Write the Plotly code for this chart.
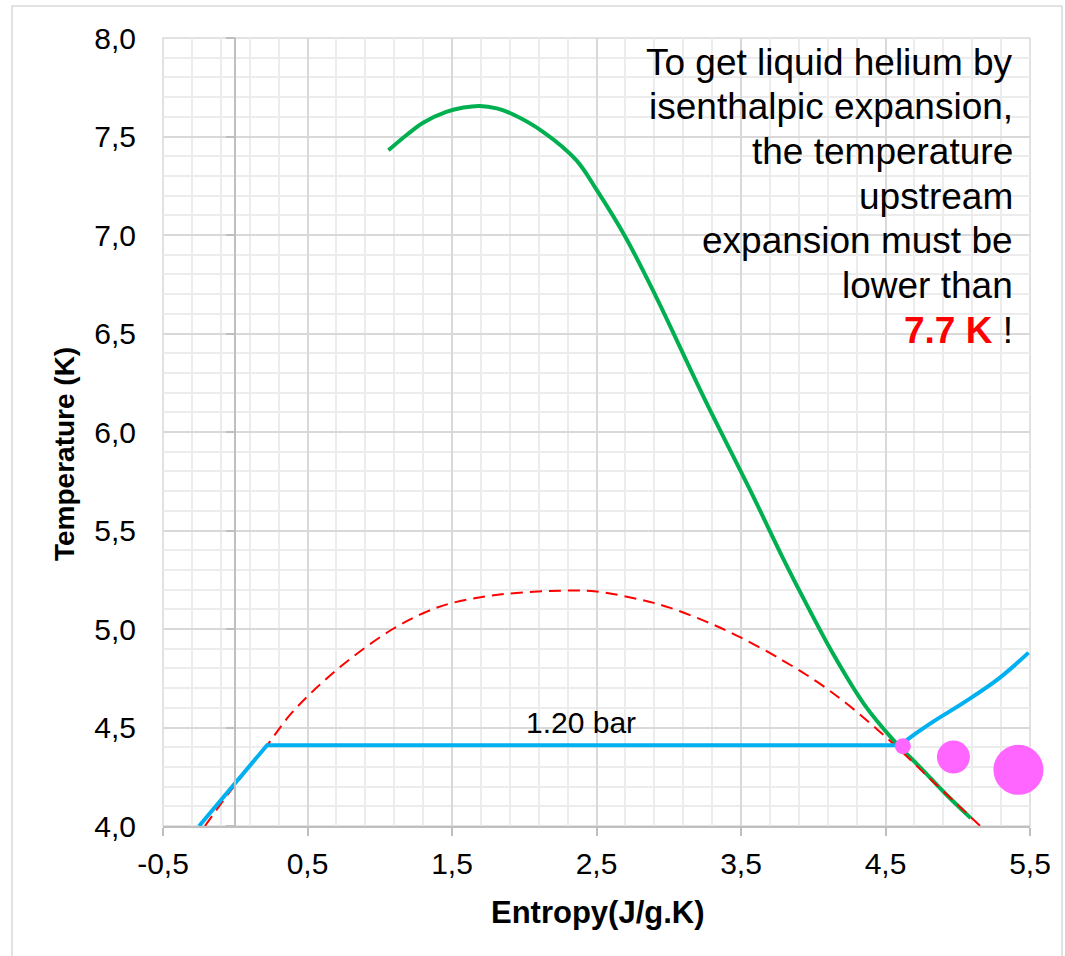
import plotly.graph_objects as go

# ---- data ----
isenthalp_s = [1.06, 1.19, 1.30, 1.46, 1.58, 1.69, 1.81, 1.92, 2.13, 2.36, 2.50, 2.70, 2.91, 3.24, 3.58, 3.79, 3.95, 4.14, 4.35, 4.55, 4.75, 4.92, 5.09]
isenthalp_T = [7.43, 7.51, 7.57, 7.625, 7.647, 7.655, 7.643, 7.613, 7.524, 7.38, 7.23, 6.99, 6.69, 6.18, 5.68, 5.36, 5.13, 4.87, 4.62, 4.44, 4.29, 4.16, 4.04]

dome_s = [-0.21, -0.01, 0.22, 0.38, 0.56, 0.79, 1.09, 1.30, 1.49, 1.83, 2.30, 2.50, 2.80, 3.00, 3.25, 3.49, 3.79, 4.03, 4.25, 4.55, 4.83, 5.17]
dome_T = [4.00, 4.20, 4.41, 4.565, 4.70, 4.845, 5.00, 5.08, 5.13, 5.175, 5.195, 5.19, 5.15, 5.11, 5.04, 4.96, 4.84, 4.73, 4.61, 4.42, 4.225, 3.99]

isobar_s = [-0.25, 0.22, 4.60, 4.72, 4.83, 5.06, 5.29, 5.49]
isobar_T = [4.00, 4.41, 4.41, 4.475, 4.53, 4.635, 4.752, 4.88]

bubble_s = [4.62, 4.97, 5.42]
bubble_T = [4.405, 4.35, 4.285]
bubble_size = [16, 33, 50]

x_tick_vals = [-0.5, 0.5, 1.5, 2.5, 3.5, 4.5, 5.5]
x_tick_text = ["-0,5", "0,5", "1,5", "2,5", "3,5", "4,5", "5,5"]
y_tick_vals = [4.0, 4.5, 5.0, 5.5, 6.0, 6.5, 7.0, 7.5, 8.0]
y_tick_text = ["4,0", "4,5", "5,0", "5,5", "6,0", "6,5", "7,0", "7,5", "8,0"]

isobar_label = "1.20 bar"
note_lines = ["To get liquid helium by", "isenthalpic expansion,", "the temperature", "upstream",
              "expansion must be", "lower than", "<span style='color:#FF0000'><b>7.7 K</b></span> !"]

FONT = "Liberation Sans, Arial, sans-serif"
MAJOR = "#d9d9d9"
MINOR = "#ececec"
AXIS = "#bfbfbf"

# plot-area geometry in pixels
L, R, T, B = 163, 1030, 38, 826
PW, PH = R - L, B - T


def px_x(px):
    return (px - L) / PW


def px_y(py):
    return (B - py) / PH


fig = go.Figure()
fig.add_trace(go.Scatter(x=isenthalp_s, y=isenthalp_T, mode="lines",
                         line=dict(color="#00B050", width=4, shape="spline", smoothing=1.0),
                         showlegend=False, hoverinfo="skip"))
fig.add_trace(go.Scatter(x=dome_s, y=dome_T, mode="lines",
                         line=dict(color="#FF0000", width=2, dash="12px,7px", shape="spline", smoothing=1.0),
                         showlegend=False, hoverinfo="skip"))
# isobar: liquid + two-phase part (straight), vapour part (curved)
fig.add_trace(go.Scatter(x=isobar_s[:3], y=isobar_T[:3], mode="lines",
                         line=dict(color="#00B0F0", width=4),
                         showlegend=False, hoverinfo="skip"))
fig.add_trace(go.Scatter(x=isobar_s[2:], y=isobar_T[2:], mode="lines",
                         line=dict(color="#00B0F0", width=4, shape="spline", smoothing=1.0),
                         showlegend=False, hoverinfo="skip"))
fig.add_trace(go.Scatter(x=bubble_s, y=bubble_T, mode="markers", cliponaxis=False,
                         marker=dict(color="#FF66FF", size=bubble_size, sizemode="diameter", line=dict(width=0), opacity=1),
                         showlegend=False, hoverinfo="skip"))
# helper trace so the secondary y axis (drawn at x = 0) exists
fig.add_trace(go.Scatter(x=[None], y=[None], yaxis="y2", showlegend=False, hoverinfo="skip"))

x_range = [-0.5, 5.5]
y_range = [4.0, 8.0]
x_pos0 = (0 - x_range[0]) / (x_range[1] - x_range[0])

fig.update_layout(
    width=1065, height=956, autosize=False,
    margin=dict(l=L, r=1065 - R, t=T, b=956 - B, pad=0),
    paper_bgcolor="white", plot_bgcolor="white",
    font=dict(family=FONT, color="black", size=30),
    xaxis=dict(range=x_range, tickmode="array", tickvals=x_tick_vals, ticktext=x_tick_text,
               showgrid=True, gridcolor=MAJOR, gridwidth=1.5, zeroline=False,
               showline=True, linecolor=AXIS, linewidth=1.5,
               ticks="outside", ticklen=8, tickcolor=AXIS, tickwidth=1.5,
               ticklabelstandoff=2,
               tickfont=dict(size=30, family=FONT, color="black"),
               minor=dict(tickmode="linear", tick0=-0.5, dtick=0.2, showgrid=True, gridcolor=MINOR, gridwidth=1.5, ticks=""),
               fixedrange=True),
    yaxis=dict(range=y_range, tickmode="array", tickvals=y_tick_vals, ticktext=y_tick_text,
               showgrid=True, gridcolor=MAJOR, gridwidth=1.5, zeroline=False,
               showline=False, ticks="", ticklabelstandoff=26,
               tickfont=dict(size=30, family=FONT, color="black"),
               minor=dict(tickmode="linear", tick0=4.0, dtick=0.1, showgrid=True, gridcolor=MINOR, gridwidth=1.5, ticks=""),
               fixedrange=True),
    yaxis2=dict(range=y_range, overlaying="y", anchor="free", position=x_pos0, side="left",
                tickmode="array", tickvals=y_tick_vals, showticklabels=False,
                showgrid=False, zeroline=False, showline=True, linecolor=AXIS, linewidth=1.5,
                ticks="outside", ticklen=9, tickcolor=AXIS, tickwidth=1.5, fixedrange=True),
)

# plot area border and chart border
fig.add_shape(type="rect", xref="paper", yref="paper", x0=0, x1=1, y0=0, y1=1,
              line=dict(color=MAJOR, width=1.5), layer="below")
fig.add_shape(type="rect", xref="paper", yref="paper",
              x0=px_x(12), x1=px_x(1062), y0=px_y(990), y1=px_y(6),
              line=dict(color="#d9d9d9", width=1.5), layer="below")

# axis titles
fig.add_annotation(text="<b>Entropy(J/g.K)</b>", xref="paper", yref="paper",
                   x=px_x(597.5), y=px_y(912), xanchor="center", yanchor="middle",
                   showarrow=False, font=dict(size=31, family=FONT, color="black"))
fig.add_annotation(text="<b>Temperature (K)</b>", xref="paper", yref="paper",
                   x=px_x(64), y=px_y(454), xanchor="center", yanchor="middle",
                   textangle=-90, showarrow=False, font=dict(size=28, family=FONT, color="black"))

# isobar label
fig.add_annotation(text=isobar_label, xref="paper", yref="paper",
                   x=px_x(581), y=px_y(722), xanchor="center", yanchor="middle", showarrow=False,
                   font=dict(size=30, family=FONT, color="black"))

# note, one annotation per line for Excel-like line spacing
NOTE_SIZE = 37
for i, line in enumerate(note_lines):
    baseline = 73.3 + i * 44.7
    fig.add_annotation(text=line, xref="paper", yref="paper",
                       x=px_x(1015), y=px_y(baseline - 0.3 * NOTE_SIZE),
                       xanchor="right", yanchor="middle", align="right", showarrow=False,
                       font=dict(size=NOTE_SIZE, family=FONT, color="black"))

fig.write_html("out.html")
